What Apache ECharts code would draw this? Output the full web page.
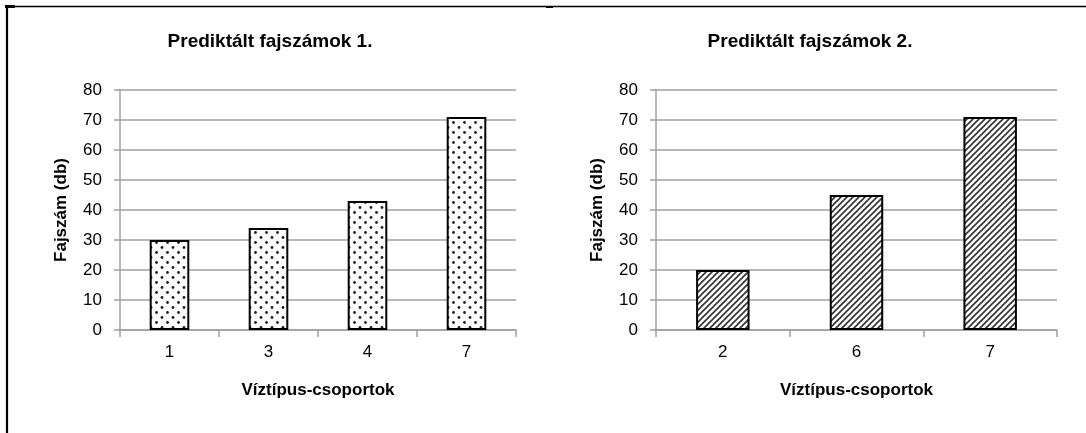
<!DOCTYPE html>
<html>
<head>
<meta charset="utf-8">
<script src="https://cdn.jsdelivr.net/npm/echarts@6/dist/echarts.min.js"></script>
<style>
html,body{margin:0;padding:0;background:#fff;}
#chart{width:1086px;height:433px;}
</style>
</head>
<body>
<div id="chart"></div>
<script>
// ---- data ----
const title1 = 'Prediktált fajszámok 1.';
const title2 = 'Prediktált fajszámok 2.';
const categories1 = ['1', '3', '4', '7'];
const values1 = [30, 34, 43, 71];
const categories2 = ['2', '6', '7'];
const values2 = [20, 45, 71];
const xName = 'Víztípus-csoportok';
const yName = 'Fajszám (db)';
const yMin = 0, yMax = 80, yStep = 10;

// ---- patterns ----
function dotPattern() {
  const c = document.createElement('canvas');
  c.width = 11; c.height = 10;
  const g = c.getContext('2d');
  g.fillStyle = '#fff'; g.fillRect(0, 0, 11, 10);
  g.fillStyle = '#222';
  g.beginPath(); g.arc(2.5, 2.5, 1.4, 0, Math.PI * 2); g.fill();
  g.beginPath(); g.arc(8, 7.5, 1.4, 0, Math.PI * 2); g.fill();
  return c;
}
function hatchPattern() {
  const s = 6;
  const c = document.createElement('canvas');
  c.width = s; c.height = s;
  const g = c.getContext('2d');
  g.fillStyle = '#fff'; g.fillRect(0, 0, s, s);
  g.strokeStyle = '#333'; g.lineWidth = 1.6;
  g.beginPath();
  g.moveTo(-1, s + 1); g.lineTo(s + 1, -1);
  g.moveTo(-1, 1); g.lineTo(1, -1);
  g.moveTo(s - 1, s + 1); g.lineTo(s + 1, s - 1);
  g.stroke();
  return c;
}

const FONT = '"Liberation Sans", Arial, sans-serif';
const grey = '#a0a0a0';

function xAxisCfg(gridIndex, cats) {
  return {
    type: 'category', gridIndex, data: cats,
    axisLine: { show: true, lineStyle: { color: grey, width: 1.5 } },
    axisTick: { show: true, alignWithLabel: false, length: 7, lineStyle: { color: grey, width: 1.5 } },
    axisLabel: { color: '#000', fontSize: 17, fontFamily: FONT, margin: 14 },
    name: xName, nameLocation: 'middle', nameGap: 52,
    nameTextStyle: { color: '#000', fontSize: 17, fontWeight: 'bold', fontFamily: FONT }
  };
}
function yAxisCfg(gridIndex) {
  return {
    type: 'value', gridIndex, min: yMin, max: yMax, interval: yStep,
    axisLine: { show: true, lineStyle: { color: grey, width: 1.5 } },
    axisTick: { show: true, length: 6, lineStyle: { color: grey, width: 1.5 } },
    splitLine: { show: true, lineStyle: { color: grey, width: 1.5 } },
    axisLabel: { color: '#000', fontSize: 17, fontFamily: FONT, margin: 18 },
    name: yName, nameLocation: 'middle', nameGap: 50,
    nameTextStyle: { color: '#000', fontSize: 17, fontWeight: 'bold', fontFamily: FONT }
  };
}

const chart = echarts.init(document.getElementById('chart'), null, { renderer: 'canvas' });
chart.setOption({
  backgroundColor: '#fff',
  animation: false,
  title: [
    { text: title1, left: 270, top: 32, padding: 0, textAlign: 'center',
      textStyle: { color: '#000', fontSize: 19, fontWeight: 'bold', fontFamily: FONT } },
    { text: title2, left: 810, top: 32, padding: 0, textAlign: 'center',
      textStyle: { color: '#000', fontSize: 19, fontWeight: 'bold', fontFamily: FONT } }
  ],
  grid: [
    { left: 120, right: 1086 - 516, top: 90, bottom: 433 - 330, containLabel: false },
    { left: 656, right: 1086 - 1057, top: 90, bottom: 433 - 330, containLabel: false }
  ],
  xAxis: [xAxisCfg(0, categories1), xAxisCfg(1, categories2)],
  yAxis: [yAxisCfg(0), yAxisCfg(1)],
  series: [
    { type: 'bar', xAxisIndex: 0, yAxisIndex: 0, data: values1, barCategoryGap: '60%',
      itemStyle: { color: { image: dotPattern(), repeat: 'repeat' }, borderColor: '#000', borderWidth: 2 } },
    { type: 'bar', xAxisIndex: 1, yAxisIndex: 1, data: values2, barCategoryGap: '60%',
      itemStyle: { color: { image: hatchPattern(), repeat: 'repeat' }, borderColor: '#000', borderWidth: 2 } }
  ],
  graphic: [
    { type: 'line', shape: { x1: 6, y1: 6.5, x2: 1086, y2: 6.5 }, style: { stroke: '#000', lineWidth: 1.5 } },
    { type: 'line', shape: { x1: 7, y1: 5.5, x2: 7, y2: 433 }, style: { stroke: '#000', lineWidth: 2.2 } },
    { type: 'rect', shape: { x: 5, y: 5, width: 10, height: 3 }, style: { fill: '#000' } },
    { type: 'rect', shape: { x: 546, y: 6, width: 7, height: 2 }, style: { fill: '#000' } }
  ]
});
</script>
</body>
</html>
